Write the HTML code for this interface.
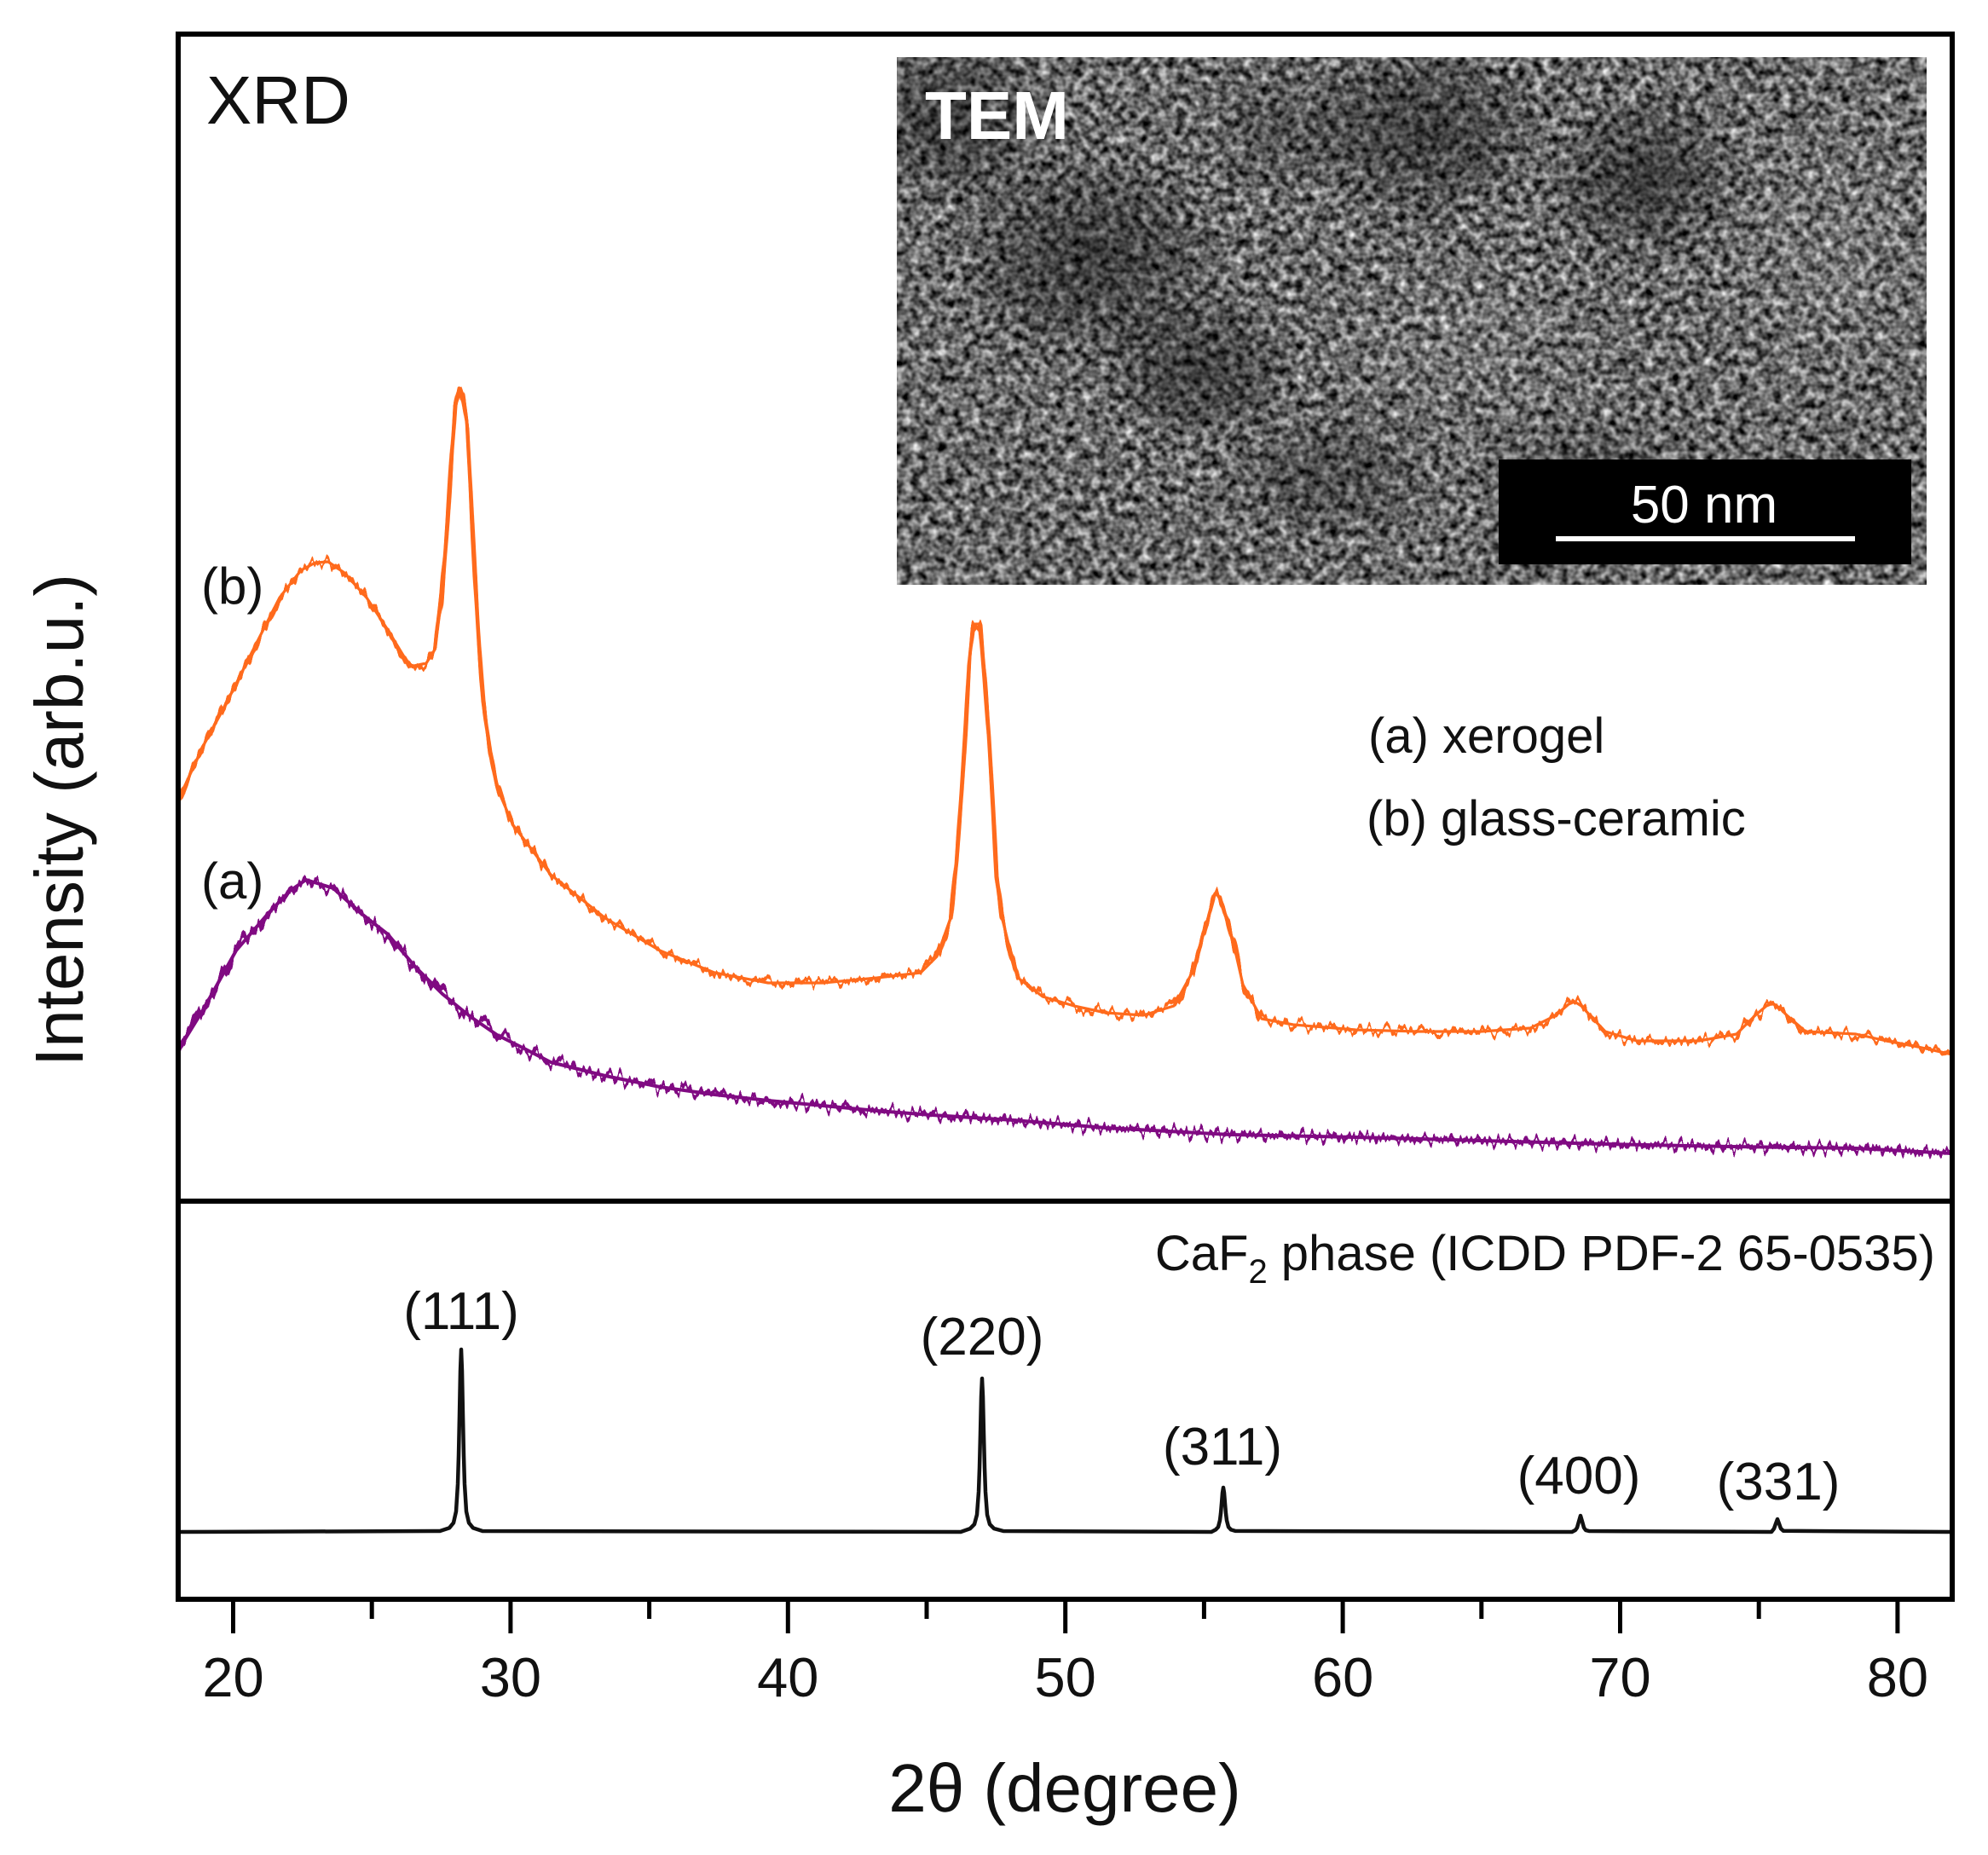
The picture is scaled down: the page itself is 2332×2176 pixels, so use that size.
<!DOCTYPE html>
<html>
<head>
<meta charset="utf-8">
<style>
  html, body { margin:0; padding:0; background:#ffffff; }
  body { width:2332px; height:2176px; overflow:hidden; }
  svg { display:block; }
  text { font-family: "Liberation Sans", Arial, sans-serif; fill:#111; }
</style>
</head>
<body>
<svg width="2332" height="2176" viewBox="0 0 2332 2176">
  <defs>
    <filter id="tem" x="0" y="0" width="1" height="1" color-interpolation-filters="sRGB">
      <feTurbulence type="fractalNoise" baseFrequency="0.1" numOctaves="2" seed="7" result="n"/>
      <feColorMatrix in="n" type="matrix" values="1.35 0 0 0 -0.26  1.35 0 0 0 -0.26  1.35 0 0 0 -0.26  0 0 0 0 1"/>
    </filter>
    <filter id="jitO" filterUnits="userSpaceOnUse" x="200" y="400" width="2100" height="1000" color-interpolation-filters="sRGB">
      <feTurbulence type="fractalNoise" baseFrequency="0.16 0.003" numOctaves="2" seed="4" result="t"/>
      <feColorMatrix in="t" type="matrix" values="0 0 0 0 0.5  1 0 0 0 0  0 0 0 0 0  0 0 0 0 1" result="m"/>
      <feDisplacementMap in="SourceGraphic" in2="m" scale="26" xChannelSelector="R" yChannelSelector="G"/>
    </filter>
    <filter id="jitP" filterUnits="userSpaceOnUse" x="200" y="900" width="2100" height="500" color-interpolation-filters="sRGB">
      <feTurbulence type="fractalNoise" baseFrequency="0.16 0.003" numOctaves="2" seed="11" result="t"/>
      <feColorMatrix in="t" type="matrix" values="0 0 0 0 0.5  1 0 0 0 0  0 0 0 0 0  0 0 0 0 1" result="m"/>
      <feDisplacementMap in="SourceGraphic" in2="m" scale="34" xChannelSelector="R" yChannelSelector="G"/>
    </filter>
    <radialGradient id="dk">
      <stop offset="0" stop-color="#000" stop-opacity="0.45"/>
      <stop offset="0.6" stop-color="#000" stop-opacity="0.24"/>
      <stop offset="1" stop-color="#000" stop-opacity="0"/>
    </radialGradient>
    <radialGradient id="lt">
      <stop offset="0" stop-color="#fff" stop-opacity="0.10"/>
      <stop offset="1" stop-color="#fff" stop-opacity="0"/>
    </radialGradient>
    <clipPath id="insetClip"><rect x="1052" y="67" width="1208" height="619"/></clipPath>
    <clipPath id="plotClip"><rect x="212" y="43" width="2075" height="1363"/></clipPath>
    <clipPath id="botClip"><rect x="212" y="1412" width="2075" height="461"/></clipPath>
    <path id="pP" d="M209,1232 L238,1185 L277,1115 L315,1071 L340,1045 L359,1032 L391,1042 L423,1071 L455,1096 L487,1134 L519,1166 L551,1192 L583,1214 L615,1230 L646,1246 L710,1262 L774,1275 L838,1284 L901,1291 L965,1297 L1029,1303 L1093,1308 L1189,1314 L1297,1323 L1443,1331 L1590,1334 L1737,1338 L1883,1342 L2030,1345 L2177,1347 L2290,1353"/>
    <path id="pO" d="M209,943 L219,917 L240,872 L264,828 L296,764 L328,701 L353,669 L370,660 L385,659 L404,672 L430,701 L455,739 L481,782 L500,778 L510,762 L518,700 L525,611 L530,530 L534,475 L539,455 L543,470 L548,500 L552,570 L557,675 L562,760 L567,828 L575,885 L583,924 L602,968 L646,1026 L710,1077 L774,1115 L838,1141 L901,1153 L965,1153 L1029,1147 L1080,1141 L1099,1122 L1115,1077 L1122,1010 L1128,930 L1133,850 L1137,777 L1141,740 L1144,732 L1148,732 L1150,738 L1155,800 L1160,866 L1165,950 L1169,1026 L1175,1075 L1185,1115 L1194,1147 L1223,1169 L1260,1180 L1297,1188 L1341,1191 L1377,1180 L1399,1140 L1410,1100 L1418,1074 L1424,1052 L1427,1048 L1431,1055 L1440,1081 L1450,1120 L1458,1155 L1480,1195 L1517,1202 L1590,1208 L1663,1210 L1737,1210 L1795,1206 L1825,1191 L1840,1178 L1847,1175 L1855,1180 L1865,1191 L1883,1210 L1920,1221 L1993,1221 L2037,1213 L2059,1191 L2072,1180 L2080,1177 L2088,1183 L2096,1191 L2118,1210 L2177,1213 L2213,1221 L2250,1228 L2290,1237"/>
  </defs>

  <rect x="0" y="0" width="2332" height="2176" fill="#ffffff"/>

  <!-- curves -->
  <g clip-path="url(#plotClip)" fill="none" stroke-linejoin="round" stroke-linecap="round">
    <use href="#pP" stroke="#800a82" stroke-width="4"/>
    <g filter="url(#jitP)">
      <use href="#pP" stroke="#800a82" stroke-width="6"/>
    </g>
    <use href="#pO" stroke="#ff6a1c" stroke-width="3.2"/>
    <g filter="url(#jitO)">
      <use href="#pO" stroke="#ff6a1c" stroke-width="5"/>
    </g>
  </g>
  <g clip-path="url(#botClip)">
    <path fill="none" stroke="#111" stroke-width="4.5" stroke-linejoin="round"
      d="M209,1797 L516,1796 L527,1792.4 L532,1786.3 L535,1773 L537,1741 L538,1707.5 L539,1660 L540,1608.3 L541,1583 L542,1608.3 L543,1660 L544,1707.5 L545,1741 L547,1773 L550,1786.3 L555,1792.4 L566,1796 L1127,1797 L1138,1793.1 L1143,1788 L1146,1776.8 L1148,1750 L1149,1721.8 L1150,1681.8 L1151,1638.2 L1152,1617 L1153,1638.2 L1154,1681.8 L1155,1721.8 L1156,1750 L1158,1776.8 L1161,1788 L1166,1793.1 L1177,1796 L1421,1797 L1426,1794.4 L1429,1791.2 L1431,1783.4 L1432,1775.3 L1433,1763.7 L1434,1751.1 L1435,1745 L1436,1751.1 L1437,1763.7 L1438,1775.3 L1439,1783.4 L1441,1791.2 L1444,1794.4 L1449,1795.9 L1844,1797 L1848,1794.9 L1850,1792 L1852,1784.8 L1854,1778 L1856,1784.8 L1858,1792 L1860,1794.9 L1864,1796 L2078,1797 L2081,1793.1 L2083,1787.4 L2085,1782 L2087,1787.4 L2089,1793.1 L2092,1795.8 L2290,1797"/>
  </g>

  <!-- TEM inset -->
  <g clip-path="url(#insetClip)">
    <rect x="1052" y="67" width="1208" height="619" fill="#6e6e6e"/>
    <rect x="1052" y="67" width="1208" height="619" fill="#777" filter="url(#tem)"/>
    <ellipse cx="1120" cy="140" rx="120" ry="100" fill="url(#dk)"/>
    <ellipse cx="1278" cy="302" rx="170" ry="130" fill="url(#dk)"/>
    <ellipse cx="1668" cy="156" rx="150" ry="110" fill="url(#dk)"/>
    <ellipse cx="1928" cy="210" rx="120" ry="105" fill="url(#dk)"/>
    <ellipse cx="1408" cy="434" rx="120" ry="90" fill="url(#dk)"/>
    <ellipse cx="1560" cy="560" rx="130" ry="80" fill="url(#dk)" opacity="0.7"/>
    <ellipse cx="1860" cy="560" rx="130" ry="80" fill="url(#dk)" opacity="0.6"/>
    <ellipse cx="1500" cy="150" rx="100" ry="80" fill="url(#dk)" opacity="0.5"/>
    <ellipse cx="1720" cy="400" rx="180" ry="110" fill="url(#lt)"/>
    <ellipse cx="2150" cy="300" rx="140" ry="180" fill="url(#lt)"/>
  </g>
  <rect x="1758" y="539" width="484" height="123" fill="#000"/>
  <text x="1999" y="613" font-size="62" text-anchor="middle" style="fill:#fff">50 nm</text>
  <rect x="1825" y="629" width="351" height="6" fill="#fff"/>
  <text x="1085" y="163" font-size="80" font-weight="bold" style="fill:#fff">TEM</text>

  <!-- frame -->
  <rect x="209" y="40" width="2081" height="1836" fill="none" stroke="#000" stroke-width="6"/>
  <line x1="209" y1="1409" x2="2290" y2="1409" stroke="#000" stroke-width="6"/>

  <!-- ticks -->
  <g stroke="#000" stroke-width="5">
    <line x1="273.5" y1="1876" x2="273.5" y2="1916"/>
    <line x1="436.2" y1="1876" x2="436.2" y2="1899"/>
    <line x1="598.9" y1="1876" x2="598.9" y2="1916"/>
    <line x1="761.6" y1="1876" x2="761.6" y2="1899"/>
    <line x1="924.3" y1="1876" x2="924.3" y2="1916"/>
    <line x1="1087" y1="1876" x2="1087" y2="1899"/>
    <line x1="1249.7" y1="1876" x2="1249.7" y2="1916"/>
    <line x1="1412.4" y1="1876" x2="1412.4" y2="1899"/>
    <line x1="1575.1" y1="1876" x2="1575.1" y2="1916"/>
    <line x1="1737.8" y1="1876" x2="1737.8" y2="1899"/>
    <line x1="1900.5" y1="1876" x2="1900.5" y2="1916"/>
    <line x1="2063.2" y1="1876" x2="2063.2" y2="1899"/>
    <line x1="2225.9" y1="1876" x2="2225.9" y2="1916"/>
  </g>
  <g font-size="65" text-anchor="middle">
    <text x="273.5" y="1990">20</text>
    <text x="598.9" y="1990">30</text>
    <text x="924.3" y="1990">40</text>
    <text x="1249.7" y="1990">50</text>
    <text x="1575.1" y="1990">60</text>
    <text x="1900.5" y="1990">70</text>
    <text x="2225.9" y="1990">80</text>
  </g>

  <!-- titles -->
  <text x="1249" y="2125" font-size="80" text-anchor="middle">2θ (degree)</text>
  <text transform="translate(97,962) rotate(-90)" font-size="80" text-anchor="middle">Intensity (arb.u.)</text>
  <text x="242" y="145" font-size="80">XRD</text>

  <!-- series labels -->
  <text x="236" y="708" font-size="60">(b)</text>
  <text x="236" y="1054" font-size="60">(a)</text>
  <text x="1605" y="883" font-size="58">(a) xerogel</text>
  <text x="1603" y="980" font-size="58">(b) glass-ceramic</text>

  <!-- bottom panel labels -->
  <text x="2270" y="1490" font-size="58" text-anchor="end">CaF<tspan font-size="40" dy="15">2</tspan><tspan dy="-15"> phase (ICDD PDF-2 65-0535)</tspan></text>
  <g font-size="62" text-anchor="middle">
    <text x="541" y="1559">(111)</text>
    <text x="1152" y="1589">(220)</text>
    <text x="1434" y="1718">(311)</text>
    <text x="1852" y="1752">(400)</text>
    <text x="2086" y="1759">(331)</text>
  </g>
</svg>
</body>
</html>
